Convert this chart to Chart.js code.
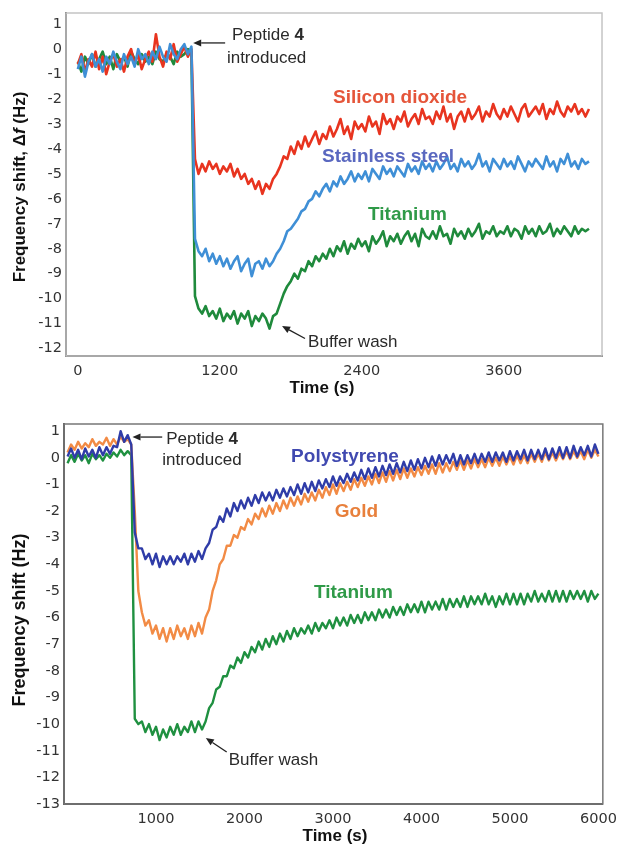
<!DOCTYPE html>
<html><head><meta charset="utf-8">
<script src="https://cdn.jsdelivr.net/npm/chart.js@4.4.1/dist/chart.umd.min.js"></script>
<style>
html,body{margin:0;padding:0;background:#fff;}
#wrap{position:relative;width:624px;height:844px;overflow:hidden;}
#c1{position:absolute;left:0;top:0;}
#c2{position:absolute;left:0;top:400px;}
</style></head><body>
<div id="wrap">
<canvas id="c1" width="624" height="400"></canvas>
<canvas id="c2" width="624" height="444"></canvas>
</div>
<script>
// ---------- TOP PANEL DATA (sampled every 30 s from t = 0) ----------
const topStart = 0, topStep = 30;
const topXTicks = [0, 1200, 2400, 3600];
const topYTicks = [1, 0, -1, -2, -3, -4, -5, -6, -7, -8, -9, -10, -11, -12];
const topSilicon = [
 -0.6,-0.2,-0.9,-0.4,-0.7,-0.1,-0.8,-0.3,-1.0,-0.5,
 -0.2,-0.7,-0.4,-0.9,-0.3,0.0,-0.6,-0.2,-0.8,-0.4,
 -0.1,-0.5,0.6,-0.3,-0.7,-0.1,-0.4,0.2,-0.5,-0.2,
 0.1,-0.3,0.0,
 -4.4,-5.0,-4.6,-4.9,-4.5,-4.8,-4.6,
 -5.0,-4.7,-4.9,-4.6,-5.1,-4.8,-5.2,-5.0,-5.4,-5.2,
 -5.6,-5.3,-5.8,-5.4,-5.6,-5.2,-5.0,-4.7,-4.3,-4.4,
 -3.9,-4.2,-3.7,-4.0,-3.5,-3.9,-3.6,-3.3,-3.8,-3.4,
 -3.6,-3.1,-3.5,-3.2,-2.8,-3.4,-3.1,-3.6,-2.9,-3.2,
 -3.0,-3.3,-2.7,-3.1,-2.9,-3.4,-2.6,-3.0,-2.8,-3.2,
 -2.7,-2.9,-2.5,-3.1,-2.8,-2.6,-3.0,-2.4,-2.8,-2.7,
 -3.0,-2.5,-2.8,-2.3,-2.9,-2.6,-3.2,-2.7,-2.5,-2.9,
 -2.4,-2.8,-2.6,-2.3,-2.9,-2.5,-2.7,-2.2,-2.6,-2.8,
 -2.4,-2.7,-2.3,-2.6,-2.9,-2.4,-2.2,-2.7,-2.5,-2.3,
 -2.6,-2.2,-2.8,-2.4,-2.6,-2.1,-2.5,-2.7,-2.3,-2.5,
 -2.2,-2.6,-2.4,-2.7,-2.4
];
const topSteel = [
 -0.8,-0.3,-1.1,-0.5,-0.2,-0.7,-0.4,-0.9,-0.3,-0.6,
 -0.1,-0.5,-0.8,-0.2,-0.6,-0.3,-0.7,0.0,-0.4,-0.2,
 -0.6,-0.1,-0.4,0.1,-0.3,-0.5,0.2,-0.2,-0.4,0.0,
 0.2,-0.2,0.1,
 -7.6,-8.1,-8.3,-8.0,-8.5,-8.2,-8.6,
 -8.3,-8.7,-8.4,-8.8,-8.5,-8.3,-8.9,-8.6,-8.4,-9.1,
 -8.6,-8.5,-8.8,-8.4,-8.7,-8.5,-8.2,-8.0,-7.7,-7.3,
 -7.2,-7.0,-6.8,-6.5,-6.4,-6.1,-6.0,-5.7,-5.9,-5.6,
 -5.4,-5.7,-5.3,-5.5,-5.1,-5.4,-5.2,-4.9,-5.3,-5.0,
 -5.2,-4.9,-5.3,-4.8,-5.0,-5.2,-4.7,-5.0,-4.8,-5.1,
 -4.7,-4.9,-5.1,-4.6,-4.9,-4.7,-5.0,-4.5,-4.8,-4.6,
 -4.9,-4.5,-4.8,-4.6,-4.3,-4.8,-4.6,-4.9,-4.4,-4.7,
 -4.5,-4.8,-4.6,-4.2,-4.7,-4.5,-4.9,-4.4,-4.6,-4.8,
 -4.4,-4.7,-4.5,-4.8,-4.3,-4.6,-4.9,-4.5,-4.7,-4.4,
 -4.6,-4.8,-4.3,-4.7,-4.5,-4.9,-4.4,-4.6,-4.2,-4.7,
 -4.5,-4.8,-4.4,-4.6,-4.5
];
const topTitanium = [
 -0.5,-0.9,-0.3,-0.6,-0.2,-0.7,-0.4,-0.1,-0.6,-0.3,
 -0.8,-0.2,-0.5,-0.3,-0.7,-0.1,-0.4,-0.6,-0.2,-0.5,
 -0.3,-0.6,-0.1,-0.4,-0.5,-0.2,-0.3,-0.6,-0.1,-0.3,
 -0.2,0.0,-0.1,
 -9.9,-10.4,-10.6,-10.3,-10.7,-10.5,-10.8,
 -10.4,-10.9,-10.6,-10.8,-10.5,-11.0,-10.6,-10.8,-10.5,-11.1,
 -10.7,-10.9,-10.6,-10.8,-11.2,-10.7,-10.6,-10.2,-9.8,-9.5,
 -9.3,-9.0,-9.2,-8.8,-8.9,-8.5,-8.7,-8.3,-8.5,-8.2,
 -8.4,-8.0,-8.3,-7.9,-8.1,-7.7,-8.2,-7.8,-8.0,-7.6,
 -7.9,-7.7,-8.1,-7.5,-7.8,-7.6,-7.3,-7.9,-7.5,-7.7,
 -7.4,-7.8,-7.5,-7.3,-7.7,-7.4,-7.9,-7.2,-7.5,-7.6,
 -7.3,-7.6,-7.1,-7.5,-7.4,-7.8,-7.2,-7.5,-7.3,-7.6,
 -7.2,-7.5,-7.3,-7.0,-7.6,-7.3,-7.4,-7.1,-7.5,-7.3,
 -7.4,-7.1,-7.5,-7.2,-7.3,-7.6,-7.1,-7.4,-7.2,-7.5,
 -7.1,-7.4,-7.3,-7.0,-7.5,-7.2,-7.4,-7.1,-7.3,-7.5,
 -7.1,-7.4,-7.2,-7.3,-7.2
];

// ---------- BOTTOM PANEL DATA (sampled every 40 s from t = 0) ----------
const botStart = 0, botStep = 40;
const botXTicks = [1000, 2000, 3000, 4000, 5000, 6000];
const botYTicks = [1, 0, -1, -2, -3, -4, -5, -6, -7, -8, -9, -10, -11, -12, -13];
const botPolystyrene = [
 0.05,0.35,0.0,0.3,-0.05,0.35,0.05,0.3,0.0,0.4,
 0.1,0.4,0.15,0.45,0.4,1.0,0.6,0.85,0.5,-2.8,
 -3.4,-3.4,-3.8,-3.6,-4.0,-3.6,-4.1,-3.7,-4.0,-3.7,
 -4.0,-3.7,-3.9,-3.6,-4.0,-3.6,-3.9,-3.5,-3.8,-3.4,
 -3.2,-2.7,-2.6,-2.2,-2.4,-1.9,-2.2,-1.7,-2.0,-1.6,
 -1.9,-1.5,-1.8,-1.4,-1.7,-1.3,-1.6,-1.3,-1.6,-1.2,
 -1.5,-1.15,-1.45,-1.1,-1.4,-1.0,-1.35,-0.95,-1.3,-0.9,
 -1.25,-0.85,-1.15,-0.8,-1.1,-0.7,-1.05,-0.7,-0.95,-0.6,
 -0.9,-0.55,-0.85,-0.45,-0.8,-0.4,-0.75,-0.35,-0.7,-0.3,
 -0.65,-0.25,-0.6,-0.2,-0.55,-0.15,-0.5,-0.1,-0.45,-0.05,
 -0.4,0.0,-0.35,0.05,-0.3,0.1,-0.25,0.1,-0.2,0.15,
 -0.3,0.1,-0.25,0.1,-0.2,0.15,-0.2,0.15,-0.15,0.2,
 -0.15,0.2,-0.1,0.2,-0.15,0.25,-0.1,0.25,-0.05,0.3,
 -0.1,0.3,-0.05,0.3,-0.05,0.35,-0.05,0.35,0.0,0.4,
 0.0,0.4,0.0,0.45,0.05,0.4,0.1,0.45,0.05,0.5,0.15
];
const botGold = [
 0.2,0.5,0.3,0.6,0.35,0.55,0.4,0.7,0.45,0.6,
 0.5,0.75,0.45,0.7,0.5,0.8,0.6,0.7,0.5,-2.0,
 -5.0,-5.8,-6.3,-6.1,-6.6,-6.3,-6.8,-6.4,-6.9,-6.4,
 -6.8,-6.3,-6.7,-6.4,-6.8,-6.3,-6.7,-6.2,-6.6,-6.0,
 -5.7,-5.0,-4.6,-4.0,-3.8,-3.3,-3.3,-2.9,-3.0,-2.6,
 -2.7,-2.3,-2.5,-2.1,-2.3,-1.9,-2.2,-1.8,-2.1,-1.7,
 -2.0,-1.6,-1.9,-1.5,-1.8,-1.45,-1.75,-1.35,-1.65,-1.3,
 -1.6,-1.2,-1.5,-1.1,-1.4,-1.0,-1.35,-0.95,-1.25,-0.9,
 -1.2,-0.8,-1.1,-0.75,-1.05,-0.7,-1.0,-0.6,-0.95,-0.55,
 -0.9,-0.5,-0.85,-0.45,-0.8,-0.4,-0.75,-0.4,-0.7,-0.35,
 -0.65,-0.3,-0.6,-0.25,-0.6,-0.2,-0.55,-0.2,-0.5,-0.15,
 -0.45,-0.1,-0.45,-0.1,-0.4,-0.05,-0.35,-0.05,-0.35,0.0,
 -0.3,0.0,-0.3,0.05,-0.25,0.05,-0.25,0.1,-0.2,0.1,
 -0.2,0.15,-0.15,0.15,-0.15,0.2,-0.1,0.2,-0.1,0.2,
 -0.05,0.25,-0.05,0.25,0.0,0.25,-0.05,0.3,0.0,0.3,0.05
];
const botTitanium = [
 -0.2,0.1,-0.15,0.15,-0.1,0.1,-0.2,0.15,-0.05,0.1,
 -0.1,0.15,0.0,0.2,0.05,0.3,0.1,0.25,0.1,-9.8,
 -10.0,-9.9,-10.3,-10.0,-10.4,-10.1,-10.6,-10.2,-10.5,-10.1,
 -10.4,-10.0,-10.4,-10.1,-10.3,-9.9,-10.3,-9.9,-10.2,-9.9,
 -9.4,-9.2,-8.7,-8.6,-8.2,-8.2,-7.8,-7.9,-7.5,-7.7,
 -7.3,-7.5,-7.1,-7.3,-6.9,-7.2,-6.8,-7.1,-6.7,-7.0,
 -6.6,-6.9,-6.5,-6.8,-6.4,-6.7,-6.4,-6.6,-6.3,-6.6,
 -6.2,-6.5,-6.2,-6.4,-6.1,-6.4,-6.0,-6.3,-6.0,-6.3,
 -5.9,-6.2,-5.9,-6.2,-5.8,-6.1,-5.8,-6.1,-5.7,-6.0,
 -5.7,-6.0,-5.6,-5.9,-5.6,-5.9,-5.5,-5.8,-5.5,-5.8,
 -5.4,-5.8,-5.4,-5.7,-5.4,-5.7,-5.3,-5.7,-5.3,-5.6,
 -5.3,-5.6,-5.2,-5.6,-5.2,-5.5,-5.2,-5.5,-5.1,-5.5,
 -5.2,-5.6,-5.2,-5.5,-5.1,-5.5,-5.1,-5.5,-5.1,-5.5,
 -5.1,-5.4,-5.0,-5.4,-5.1,-5.4,-5.0,-5.4,-5.0,-5.4,
 -5.0,-5.4,-5.0,-5.3,-5.0,-5.3,-5.0,-5.4,-5.0,-5.3,-5.1
];

// ---------- helpers ----------
function toPoints(start, step, vals) { return vals.map((v, i) => ({ x: start + i * step, y: v })); }
function fontStr(p, size) {
  return (p.italic ? 'italic ' : '') + (p.bold ? 'bold ' : '') + size + 'px "Liberation Sans", Arial, sans-serif';
}
function drawParts(ctx, parts, size, x, y, center) {
  let total = 0;
  parts.forEach(p => { ctx.font = fontStr(p, size); total += ctx.measureText(p.s).width; });
  let px = center ? x - total / 2 : x;
  parts.forEach(p => { ctx.font = fontStr(p, size); ctx.fillText(p.s, px, y); px += ctx.measureText(p.s).width; });
}

const annotPlugin = {
  id: 'annot',
  beforeDatasetsDraw(chart, args, o) {
    const { ctx, chartArea: a } = chart;
    ctx.save();
    ctx.strokeStyle = o.frameColor; ctx.lineWidth = o.frameWidth;
    ctx.strokeRect(a.left, a.top, a.right - a.left, a.bottom - a.top);
    ctx.restore();
  },
  afterDraw(chart, args, o) {
    const { ctx, scales: { x, y } } = chart;
    ctx.save();
    (o.arrows || []).forEach(ar => {
      const x1 = x.getPixelForValue(ar.from[0]), y1 = y.getPixelForValue(ar.from[1]);
      const x2 = x.getPixelForValue(ar.to[0]), y2 = y.getPixelForValue(ar.to[1]);
      ctx.strokeStyle = '#222'; ctx.fillStyle = '#222'; ctx.lineWidth = 1.3;
      const ang = Math.atan2(y2 - y1, x2 - x1), hl = 8, hw = 3.5;
      const bx = x2 - hl * Math.cos(ang), by = y2 - hl * Math.sin(ang);
      ctx.beginPath(); ctx.moveTo(x1, y1); ctx.lineTo(bx, by); ctx.stroke();
      ctx.beginPath(); ctx.moveTo(x2, y2);
      ctx.lineTo(bx + hw * Math.sin(ang), by - hw * Math.cos(ang));
      ctx.lineTo(bx - hw * Math.sin(ang), by + hw * Math.cos(ang));
      ctx.closePath(); ctx.fill();
    });
    ctx.textBaseline = 'middle'; ctx.textAlign = 'left';
    (o.labels || []).forEach(lb => {
      ctx.fillStyle = lb.color;
      drawParts(ctx, lb.parts, lb.size, x.getPixelForValue(lb.at[0]), y.getPixelForValue(lb.at[1]), false);
    });
    ctx.fillStyle = '#111';
    const xt = o.xTitle;
    drawParts(ctx, xt.parts, xt.size, xt.x, xt.y, true);
    const yt = o.yTitle;
    ctx.translate(yt.x, yt.y); ctx.rotate(-Math.PI / 2);
    drawParts(ctx, yt.parts, yt.size, 0, 0, true);
    ctx.restore();
  }
};

function lineDs(label, start, step, vals, color, width) {
  return { label, data: toPoints(start, step, vals), borderColor: color, backgroundColor: color,
    borderWidth: width, pointRadius: 0, tension: 0, fill: false, borderJoinStyle: 'round' };
}

const tickFont = { family: '"DejaVu Sans", Verdana, sans-serif', size: 14.5 };
function makeChart(id, cfg) {
  return new Chart(document.getElementById(id), {
    type: 'line',
    data: { datasets: cfg.datasets },
    plugins: [annotPlugin],
    options: {
      responsive: false, animation: false, events: [],
      layout: { padding: cfg.padding },
      plugins: { legend: { display: false }, tooltip: { enabled: false }, annot: cfg.annot },
      scales: {
        x: {
          type: 'linear', min: cfg.xMin, max: cfg.xMax,
          afterBuildTicks: s => { s.ticks = cfg.xTicks.map(v => ({ value: v })); },
          afterFit: s => { s.height = cfg.xAxisH; },
          grid: { display: false, drawTicks: false },
          border: { display: true, color: '#555', width: 2 },
          ticks: { color: '#333', font: tickFont, padding: cfg.xPad, maxRotation: 0, autoSkip: false, callback: v => String(v) }
        },
        y: {
          type: 'linear', min: cfg.yMin, max: cfg.yMax,
          afterBuildTicks: s => { s.ticks = cfg.yTicks.map(v => ({ value: v })); },
          afterFit: s => { s.width = cfg.yAxisW; },
          grid: { display: false, drawTicks: false },
          border: { display: true, color: '#555', width: 2 },
          ticks: { color: '#333', font: tickFont, padding: 4, autoSkip: false, callback: v => String(v) }
        }
      }
    }
  });
}

const TXT = '#2a2a2a';
makeChart('c1', {
  datasets: [
    lineDs('Stainless steel', topStart, topStep, topSteel, '#3f8fd6', 2.6),
    lineDs('Silicon dioxide', topStart, topStep, topSilicon, '#e8341f', 2.6),
    lineDs('Titanium', topStart, topStep, topTitanium, '#1f8a3c', 2.6)
  ],
  padding: { top: 13, right: 22, left: 0, bottom: 0 },
  xMin: -100, xMax: 4430, yMin: -12.3, yMax: 1.45,
  xTicks: topXTicks, yTicks: topYTicks, xAxisH: 44, yAxisW: 66, xPad: 7,
  annot: {
    frameColor: '#c4c4c4', frameWidth: 1.5,
    labels: [
      { at: [1303, 0.57], size: 17, color: TXT, parts: [{ s: 'Peptide ' }, { s: '4', bold: true }] },
      { at: [1260, -0.35], size: 17, color: TXT, parts: [{ s: 'introduced' }] },
      { at: [2157, -1.96], size: 19, color: '#e5553a', parts: [{ s: 'Silicon dioxide', bold: true }] },
      { at: [2064, -4.33], size: 19, color: '#5a68c0', parts: [{ s: 'Stainless steel', bold: true }] },
      { at: [2453, -6.65], size: 19, color: '#2f9a48', parts: [{ s: 'Titanium', bold: true }] },
      { at: [1946, -11.77], size: 17, color: TXT, parts: [{ s: 'Buffer wash' }] }
    ],
    arrows: [
      { from: [1245, 0.25], to: [975, 0.25] },
      { from: [1920, -11.6], to: [1726, -11.1] }
    ],
    xTitle: { x: 322, y: 388, size: 17, parts: [{ s: 'Time (s)', bold: true }] },
    yTitle: { x: 20, y: 187, size: 17, parts: [{ s: 'Frequency shift, ', bold: true }, { s: 'Δ', bold: true }, { s: 'f', bold: true, italic: true }, { s: ' (Hz)', bold: true }] }
  }
});

makeChart('c2', {
  datasets: [
    lineDs('Polystyrene', botStart, botStep, botPolystyrene, '#2f3ca8', 2.4),
    lineDs('Gold', botStart, botStep, botGold, '#f28b45', 2.4),
    lineDs('Titanium', botStart, botStep, botTitanium, '#1f9040', 2.4)
  ],
  padding: { top: 24, right: 17, left: 0, bottom: 0 },
  xMin: -40, xMax: 6050, yMin: -13, yMax: 1.27,
  xTicks: botXTicks, yTicks: botYTicks, xAxisH: 40, yAxisW: 64, xPad: 7,
  annot: {
    frameColor: '#777', frameWidth: 1.5,
    labels: [
      { at: [1115, 0.71], size: 17, color: TXT, parts: [{ s: 'Peptide ' }, { s: '4', bold: true }] },
      { at: [1070, -0.08], size: 17, color: TXT, parts: [{ s: 'introduced' }] },
      { at: [2527, 0.03], size: 19, color: '#4049b0', parts: [{ s: 'Polystyrene', bold: true }] },
      { at: [3020, -2.03], size: 19, color: '#e8803c', parts: [{ s: 'Gold', bold: true }] },
      { at: [2785, -5.08], size: 19, color: '#2f9a48', parts: [{ s: 'Titanium', bold: true }] },
      { at: [1821, -11.35], size: 17, color: TXT, parts: [{ s: 'Buffer wash' }] }
    ],
    arrows: [
      { from: [1070, 0.78], to: [734, 0.78] },
      { from: [1799, -11.05], to: [1563, -10.52] }
    ],
    xTitle: { x: 335, y: 436, size: 17, parts: [{ s: 'Time (s)', bold: true }] },
    yTitle: { x: 20, y: 220, size: 18, parts: [{ s: 'Frequency shift (Hz)', bold: true }] }
  }
});
</script>
</body></html>
